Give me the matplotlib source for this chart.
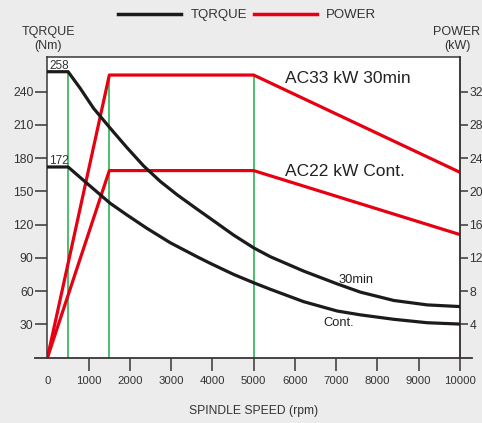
import matplotlib.pyplot as plt
from matplotlib.lines import Line2D

plt.rcParams['font.family'] = ['Liberation Sans', 'DejaVu Sans']

# torque curves (rpm, Nm)
speed_30min = [0, 500, 794, 1117, 1522, 1927, 2330, 2735, 3141, 3626, 3949,
               4515, 5000, 5405, 6214, 7024, 7590, 8398, 9209, 10000]
torque_30min = [258, 258, 243, 225, 207, 189.5, 173, 159, 147, 134, 125.5,
                110.5, 99, 91, 78, 66.5, 59, 51.5, 47.5, 46]

speed_cont = [0, 500, 956, 1522, 1927, 2413, 2978, 3626, 3949, 4515, 5000,
              5405, 6214, 7024, 7590, 8398, 9209, 10000]
torque_cont = [172, 172, 157.3, 139.2, 128.7, 116.6, 103.6, 91, 85, 75, 67.5,
               61.6, 50.4, 42, 38.5, 34.5, 31.4, 30.2]

# power curves (rpm, kW)
speed_power = [0, 1500, 5000, 10000]
power_30min = [0, 34, 34, 22.3]
power_cont = [0, 22.5, 22.5, 14.8]

green_speeds = [500, 1500, 5000]

x_ticks = list(range(0, 10001, 1000))
left_ticks = [30, 60, 90, 120, 150, 180, 210, 240]
right_ticks = [4, 8, 12, 16, 20, 24, 28, 32]
nm_per_kw = 7.5   # right scale vs left scale

RED = '#e60012'
BLACK = '#1c1a1a'
GREEN = '#2eb356'
AXC = '#3a3535'
TXT = '#333333'

fig = plt.figure(figsize=(4.82, 4.23), dpi=100)
fig.patch.set_facecolor('#ececec')
ax = fig.add_axes([0.0985, 0.1548, 0.8555, 0.7097])
ax.set_facecolor('white')

# green guide lines
ax.vlines(green_speeds[0], 0, torque_30min[0], color=GREEN, lw=1.2, zorder=1)
ax.vlines(green_speeds[1:], 0, power_30min[1] * nm_per_kw, color=GREEN, lw=1.2, zorder=1)

# power curves (drawn on the torque scale)
ax.plot(speed_power, [p * nm_per_kw for p in power_30min], color=RED, lw=2.3, zorder=2)
ax.plot(speed_power, [p * nm_per_kw for p in power_cont], color=RED, lw=2.3, zorder=2)

# torque curves
ax.plot(speed_30min, torque_30min, color=BLACK, lw=2.3, zorder=3)
ax.plot(speed_cont, torque_cont, color=BLACK, lw=2.3, zorder=3)

ax.set_xlim(0, 10000)
ax.set_ylim(0, 271)

for s in ax.spines.values():
    s.set_color(AXC)
    s.set_linewidth(1.1)
ax.spines['bottom'].set_visible(False)
# long bottom axis line
ax.add_line(Line2D([-300, 10300], [0, 0], color=AXC, lw=1.3, clip_on=False,
                   transform=ax.get_xaxis_transform()))

ax.set_xticks(x_ticks)
ax.set_yticks(left_ticks)
ax.tick_params(axis='x', direction='out', length=9, width=1.1, color=AXC,
               labelsize=8.2, labelcolor=TXT, pad=4)
ax.tick_params(axis='y', direction='out', length=9, width=1.1, color=AXC,
               labelsize=8.7, labelcolor=TXT, pad=1)
ax.xaxis.get_major_ticks()[0].tick1line.set_visible(False)

sec = ax.secondary_yaxis('right', functions=(lambda t: t / nm_per_kw, lambda p: p * nm_per_kw))
sec.set_yticks(right_ticks)
sec.tick_params(direction='out', length=6, width=1.1, color=AXC,
                labelsize=8.7, labelcolor=TXT, pad=1)
sec.spines['right'].set_color(AXC)
sec.spines['right'].set_linewidth(1.1)

ax.set_xlabel('SPINDLE SPEED (rpm)', fontsize=8.7, color=TXT, labelpad=14)

# value labels
ax.text(50, 258, '258', fontsize=8.5, color=TXT, va='bottom', ha='left')
ax.text(50, 172, '172', fontsize=8.5, color=TXT, va='bottom', ha='left')

ax.text(5750, 252, 'AC33 kW 30min', fontsize=12.5, color='#222222', va='center')
ax.text(5750, 168, 'AC22 kW Cont.', fontsize=12.5, color='#222222', va='center')
ax.text(7060, 70, '30min', fontsize=9.3, color='#222222', va='center')
ax.text(6700, 31, 'Cont.', fontsize=9.3, color='#222222', va='center')

# axis titles
fig.text(0.1, 0.908, 'TQRQUE\n(Nm)', fontsize=9, color=TXT,
         ha='center', va='center', linespacing=1.2)
fig.text(0.997, 0.908, 'POWER\n(kW)', fontsize=9, color=TXT,
         ha='right', va='center', ma='center', linespacing=1.2)

handles = [Line2D([], [], color=BLACK, lw=2.5), Line2D([], [], color=RED, lw=2.5)]
fig.legend(handles, ['TQRQUE', 'POWER'], loc='center', bbox_to_anchor=(0.513, 0.964),
           ncol=2, frameon=False, fontsize=9.5, handlelength=4.8, handletextpad=0.7,
           columnspacing=0.5, labelcolor=TXT)

fig.savefig('out.png', dpi=100, facecolor=fig.get_facecolor())
